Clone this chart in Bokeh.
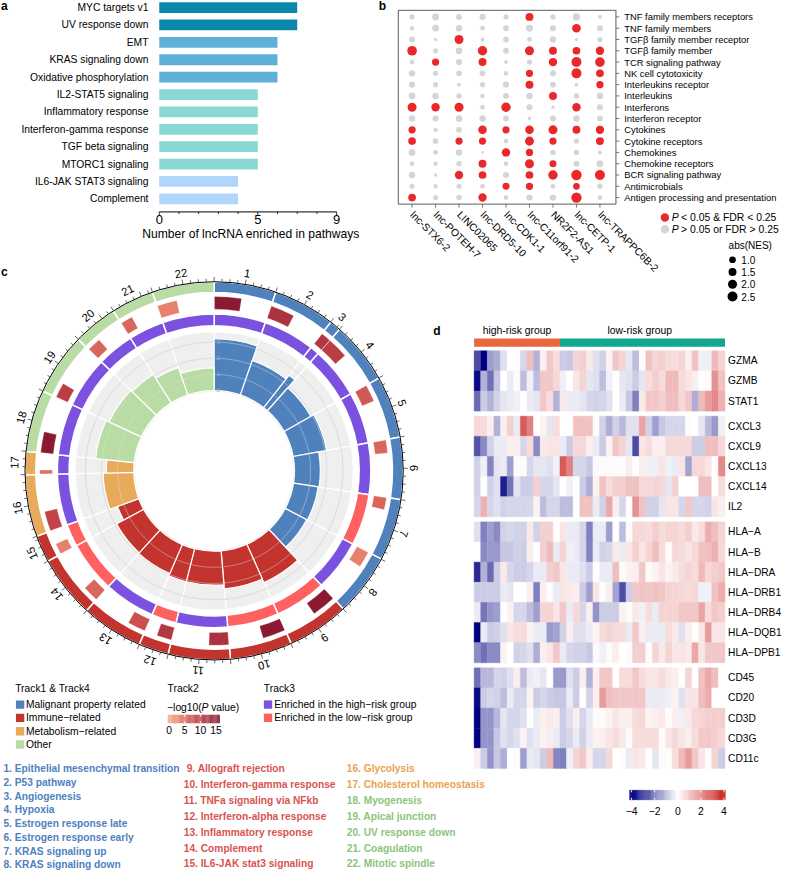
import numpy as np
from bokeh.plotting import figure
from bokeh.models import Range1d, LinearColorMapper, ColumnDataSource
from bokeh.transform import transform
from bokeh.core.properties import value
from bokeh.embed import file_html
from bokeh.resources import INLINE

# ======================= DATA =======================
# ---- panel a
a_pathways = ["MYC targets v1", "UV response down", "EMT", "KRAS signaling down",
              "Oxidative phosphorylation", "IL2-STAT5 signaling", "Inflammatory response",
              "Interferon-gamma response", "TGF beta signaling", "MTORC1 signaling",
              "IL6-JAK STAT3 signaling", "Complement"]
a_counts = [7, 7, 6, 6, 6, 5, 5, 5, 5, 5, 4, 4]
a_ticks = [0, 5, 9]
a_minor = [0, 1, 2, 3, 4, 5, 6, 7, 8, 9]

# ---- panel b
b_lncrnas = ["lnc-STX6-2", "lnc-POTEH-7", "LINC02065", "lnc-DRD5-10", "lnc-CDK1-1",
             "lnc-C11orf91-2", "NR2F2-AS1", "lnc-CETP-1", "lnc-TRAPPC6B-2"]
b_pathways = ["TNF family members receptors", "TNF family  members", "TGFβ family member receptor",
              "TGFβ family member", "TCR signaling pathway", "NK cell cytotoxicity",
              "Interleukins receptor", "Interleukins", "Interferons", "Interferon receptor",
              "Cytokines", "Cytokine receptors", "Chemokines", "Chemokine receptors",
              "BCR signaling pathway", "Antimicrobials", "Antigen processing and presentation"]
b_abs_nes = [
    [0.5, 1.1, 0.7, 0.8, 0.5, 1.5, 0.5, 1.2, 0.2],
    [0.3, 1.0, 0.9, 0.4, 0.7, 1.1, 0.8, 1.8, 0.7],
    [0.8, 0.1, 2.0, 0.2, 0.7, 0.4, 0.9, 0.1, 0.5],
    [2.3, 0.5, 1.0, 2.2, 0.7, 2.0, 1.5, 1.4, 1.7],
    [0.4, 1.2, 0.8, 1.5, 0.2, 0.5, 1.7, 2.5, 2.3],
    [0.9, 0.5, 0.7, 0.7, 0.4, 1.2, 0.8, 2.5, 1.4],
    [0.8, 0.5, 0.2, 0.5, 0.8, 1.5, 0.7, 0.2, 1.2],
    [1.0, 0.9, 0.6, 0.3, 0.7, 0.9, 1.5, 0.6, 0.9],
    [2.0, 1.7, 2.0, 0.4, 2.2, 0.8, 0.1, 1.7, 0.8],
    [0.9, 0.7, 1.0, 0.9, 0.7, 0.1, 0.7, 0.9, 0.7],
    [1.2, 0.3, 0.7, 1.8, 1.2, 1.8, 2.0, 1.5, 1.7],
    [1.4, 0.7, 1.2, 1.2, 0.4, 2.0, 1.2, 0.5, 1.5],
    [1.0, 0.4, 0.9, 0.0, 1.7, 1.2, 0.5, 0.6, 0.2],
    [0.4, 0.3, 0.6, 1.5, 0.4, 2.0, 1.1, 0.7, 1.0],
    [0.9, 0.1, 1.7, 1.4, 0.8, 1.4, 2.2, 2.7, 2.5],
    [0.5, 0.3, 0.5, 0.4, 1.1, 1.2, 0.4, 1.0, 0.6],
    [1.4, 0.5, 0.6, 1.7, 0.4, 0.8, 0.9, 2.7, 0.4],
]
b_significant = [
    [0, 0, 0, 0, 0, 1, 0, 0, 0],
    [0, 0, 0, 0, 0, 0, 0, 1, 0],
    [0, 0, 1, 0, 0, 0, 0, 0, 0],
    [1, 0, 0, 1, 0, 1, 1, 1, 1],
    [0, 1, 0, 1, 0, 0, 1, 1, 1],
    [0, 0, 0, 0, 0, 1, 0, 1, 1],
    [0, 0, 0, 0, 0, 1, 0, 0, 1],
    [0, 0, 0, 0, 0, 0, 1, 0, 0],
    [1, 1, 1, 0, 1, 0, 0, 1, 0],
    [0, 0, 0, 0, 0, 0, 0, 0, 0],
    [1, 0, 0, 1, 1, 1, 1, 1, 1],
    [1, 0, 1, 1, 0, 1, 1, 0, 1],
    [0, 0, 0, 0, 1, 1, 0, 0, 0],
    [0, 0, 0, 1, 0, 1, 1, 0, 0],
    [0, 0, 1, 1, 0, 1, 1, 1, 1],
    [0, 0, 0, 0, 1, 1, 0, 1, 0],
    [1, 0, 0, 1, 0, 0, 0, 1, 0],
]
b_nes_legend = [1.0, 1.5, 2.0, 2.5]

# ---- panel c (circos of hallmark gene sets)
c_sets = ["Epithelial mesenchymal transition", "P53 pathway", "Angiogenesis", "Hypoxia",
          "Estrogen response late", "Estrogen response early", "KRAS signaling up",
          "KRAS signaling down", "Allograft rejection", "Interferon-gamma response",
          "TNFa signaling via NFkb", "Interferon-alpha response", "Inflammatory response",
          "Complement", "IL6-JAK stat3 signaling", "Glycolysis", "Cholesterol homeostasis",
          "Myogenesis", "Apical junction", "UV response down", "Coagulation", "Mitotic spindle"]
c_set_size = [200, 200, 36, 200, 200, 200, 200, 200, 200, 200, 200, 97, 200, 200, 87,
              200, 74, 200, 200, 144, 138, 200]
c_category = ["mal"] * 8 + ["imm"] * 7 + ["met"] * 2 + ["oth"] * 5
c_neglog10p = [15, 11, 10, 9, 6, 5, 5, 3, 15, 15, 11, 10, 7, 5, 3, 8, 4, 15, 9, 5, 5, 3]
c_leading_edge = [94, 84, 35, 73, 59, 45, 42, 56, 84, 80, 69, 52, 63, 56, 38, 69, 14, 73,
                  52, 48, 42, 69]
c_enriched_in = ["high", "high", "high", "high", "high", "high", "low", "high", "low", "low",
                 "high", "low", "high", "low", "low", "high", "high", "high", "high", "high",
                 "high", "high"]
c_nes = [3.2, 2.25, 2.55, 1.9, 2.1, 1.6, 1.55, 1.5, 2.6, 2.35, 2.1, 2.1, 1.95, 1.9, 1.4,
         1.9, 1.7, 2.4, 2.2, 2.1, 1.8, 1.4]
c_track4_ticks = [0, 1, 2, 3]
c_p_ticks = [0, 5, 10, 15]
c_category_labels = [("mal", "Malignant property related"), ("imm", "Immune\u2212related"),
                     ("met", "Metabolism\u2212related"), ("oth", "Other")]

# ---- panel d (heatmap)
d_genes = ["GZMA", "GZMB", "STAT1",
           "CXCL3", "CXCL9", "CXCL13", "CXCL14", "IL2",
           "HLA\u2212A", "HLA\u2212B", "HLA\u2212DRA", "HLA\u2212DRB1", "HLA\u2212DRB4", "HLA\u2212DQB1", "HLA\u2212DPB1",
           "CD45", "CD20", "CD3D", "CD3G", "CD11c"]
d_gene_block = [0, 0, 0, 1, 1, 1, 1, 1, 2, 2, 2, 2, 2, 2, 2, 3, 3, 3, 3, 3]
d_n_high = 13
d_n_low = 25
d_expr = [
    [-2.8, -4.0, -1.5, -1.3, -0.5, 0.0, 0.0, -0.6, 1.2, -1.2, 0.3, 1.0, 0.6, -0.8, -0.9, 0.8, 0.9, 0.4, -0.5,
     -0.7, 0.2, 1.0, 0.8, -0.4, -1.0, 0.1, 1.1, 0.8, 0.9, 0.6, 0.6, 0.8, 0.3, 1.1, -0.2, -0.2, 1.3, 0.8],
    [-3.8, -1.2, -2.2, -0.9, 0.0, -0.3, 0.1, -1.0, -0.2, -1.0, 1.0, 1.0, 0.7, -0.2, 0.0, 0.5, 0.8, -0.4, -0.5,
     -1.0, -0.2, 0.0, -0.4, -0.5, -0.8, -0.4, 0.6, 0.9, 0.6, 1.3, 1.3, 0.6, 0.5, 0.3, 0.0, 0.1, 2.0, 1.1],
    [-2.3, -0.8, -1.2, -0.7, -0.4, -0.3, -0.2, 0.0, -0.3, -0.4, 1.0, 0.6, -1.2, 0.4, -0.3, -0.3, -0.4, -0.6, -0.7,
     -0.6, -0.5, 0.0, -0.3, -0.9, -2.0, 0.4, 1.0, 1.0, 0.9, 1.2, 1.2, 0.7, 1.0, -1.3, 1.3, 1.8, 2.1, 1.4],
    [0.7, 0.6, 0.3, -1.2, 0.3, 0.9, -0.3, 3.0, 2.3, 0.0, 0.2, -0.4, 0.6, 0.0, 0.0, 1.1, 1.1, 1.1, 0.1,
     -0.7, -1.3, -0.7, -1.1, -0.5, -0.5, 1.7, -0.7, -1.5, -0.9, -0.6, -0.6, -0.6, 0.1, 0.0, -0.4, -1.1, -1.6, -0.2],
    [-2.7, -1.8, -0.7, -0.3, -0.3, 0.3, 0.3, -0.6, 0.6, -1.8, 0.4, 0.5, 0.5, -0.3, -0.8, 0.7, 0.7, 0.3, -0.3,
     -0.8, 0.2, 1.0, 0.8, -0.4, -2.8, 0.5, 0.6, 0.3, 0.3, 0.7, 0.7, 0.7, 0.7, -0.8, -0.8, 1.2, 1.2, 0.7],
    [-0.7, -0.2, -1.9, -0.4, -0.3, -1.5, 0.1, 0.1, -0.6, -0.4, -0.4, -0.5, -0.2, 3.0, 2.3, -0.6, -0.6, -0.9, -0.1,
     0.1, 0.1, 0.1, 0.1, 0.3, 0.0, 0.3, -0.2, -0.2, 0.5, -0.2, -0.3, 0.5, -1.4, 0.7, 0.7, 0.5, 0.0, 2.1],
    [-0.7, 0.0, -0.7, -0.5, -3.5, -2.1, -0.4, -0.8, -0.8, 0.9, -0.6, -0.6, -0.4, 0.0, -0.2, 0.0, -0.8, -1.3, 0.2,
     1.1, 0.6, 0.9, 0.9, 1.1, 1.1, 0.7, 0.7, 0.8, 0.7, -0.4, 0.9, 0.0, 0.0, 0.0, 1.2, 1.2, 0.0, 0.6],
    [-0.6, 1.4, -0.6, -0.5, -0.7, -0.6, -0.6, -0.6, -0.6, 0.2, -1.0, -0.6, -0.6, -1.0, -1.0, 0.0, 1.1, 1.1, -0.3,
     -0.7, 1.6, 0.3, -0.6, 0.0, 2.0, 1.1, -0.7, -0.7, -0.4, 0.5, 0.5, -0.6, 1.0, -0.6, -0.6, -0.7, 0.5, 0.3],
    [-0.5, -2.0, -1.5, -1.8, -0.7, -0.6, -0.7, -0.7, 0.4, -0.7, 0.9, 0.9, 0.0, 0.5, -0.3, -0.3, -0.6, -2.0, -0.3,
     -0.3, -1.5, 0.0, -1.0, 0.1, 0.7, 0.7, 0.6, 0.9, 0.6, 0.8, 0.8, 0.6, 0.9, 0.4, 0.6, 1.5, 1.2, 0.8],
    [0.0, -1.8, -1.6, -1.6, -0.9, -0.9, -0.7, -0.8, 0.3, 0.0, 0.9, 1.3, -0.3, 0.8, -0.2, -0.3, -0.6, -1.9, -0.3,
     -0.7, -0.6, 0.4, -0.3, 0.5, 0.9, 0.5, 0.8, 1.2, 0.6, 0.1, 0.7, 0.6, 0.5, 0.7, 1.1, 1.2, 1.4, 0.7],
    [-3.3, -1.2, -2.3, -0.8, 0.4, -0.6, -0.8, -0.8, -0.6, -0.3, -0.3, 0.9, 1.0, 0.5, -0.3, -0.3, -0.5, -0.8, 0.0,
     -0.3, -0.3, 1.2, 0.1, 0.2, 0.3, 1.0, 0.1, 0.2, 0.5, 0.2, 0.4, 0.6, 0.8, 0.6, 1.3, 0.7, 0.9, 1.0],
    [-0.8, -0.8, -0.8, -0.8, -0.3, -0.4, 0.0, 0.0, 0.3, -2.0, 0.3, 0.1, -0.3, 0.5, 0.4, 0.3, -0.8, -1.5, 0.5,
     0.1, 0.3, -1.4, -2.8, -0.8, 1.0, 1.1, 1.0, 1.1, 1.0, 0.8, 0.8, 0.7, 0.6, 0.7, -0.2, -0.2, 1.1, 1.5],
    [-0.3, -2.1, -1.7, -1.5, 0.0, 0.2, -0.6, -0.6, -1.0, -1.5, 0.8, 0.8, 0.5, 1.0, -0.3, 0.7, -0.6, 0.3, -1.7,
     -0.8, -0.8, -0.8, 0.2, 0.1, 0.4, -0.2, 0.6, -0.3, 0.8, 0.8, 0.8, 1.0, 1.0, 1.0, 1.7, 0.6, 1.0, 0.9],
    [-4.0, -0.3, -0.8, -0.7, -0.5, 0.5, 0.6, 0.6, 0.2, -0.3, -0.3, -1.6, -1.4, -0.7, 0.3, -0.5, -0.5, -0.3, 0.2,
     0.6, 0.8, 0.6, 0.6, -0.3, 1.0, 0.3, -0.3, -0.3, -0.3, 0.6, 0.4, -0.5, 0.3, 0.0, 0.5, 1.8, 0.5, 0.5],
    [-1.8, -2.2, -1.8, -1.8, 0.2, 0.0, -0.7, -0.6, -0.5, -1.3, 0.3, 0.5, 1.0, -0.3, -0.6, -0.7, -0.7, -0.9, -0.1,
     -0.2, 0.1, 0.3, 0.0, 0.1, 0.9, 0.9, 0.1, 0.8, 0.4, 0.8, 0.5, 0.5, 0.4, 1.6, 0.5, 1.0, 1.0, 1.0],
    [-2.2, -1.1, -1.1, -0.6, -0.7, -0.5, 0.3, -1.0, -0.3, -0.2, -0.4, 0.0, -1.6, -1.6, -0.5, -0.8, 0.3, -1.2, 0.3,
     1.0, 1.0, 0.0, 0.6, 0.6, 1.0, 0.6, 0.5, 0.5, 0.6, 0.4, 0.3, 0.0, 0.8, 0.0, 1.1, 1.6, 1.2, 0.0],
    [-3.8, -0.8, -0.6, -0.7, -1.0, -0.3, -0.6, -0.6, 0.2, -0.8, -0.6, -0.8, -0.9, -0.9, -0.3, -0.8, 0.0, -0.7, 0.3,
     1.8, 1.2, 1.0, 1.0, 1.0, 1.0, 1.0, -0.3, -0.3, -0.3, -0.2, 0.2, -0.5, 0.5, 0.5, 1.2, 1.5, 0.0, 0.0],
    [-4.0, -1.7, -1.7, -1.1, -0.4, -0.6, -0.6, -0.5, 0.0, -0.3, 0.3, 0.4, 0.3, -0.8, -0.5, 0.3, -0.6, -0.3, 0.1,
     0.1, 0.2, 0.5, 0.3, 0.3, 0.6, 0.7, 0.2, 0.3, 0.4, 0.1, 0.3, -0.2, 0.4, 0.7, 0.8, 0.9, 0.9, 0.9],
    [-4.0, -1.7, -1.7, -0.9, -0.5, -0.6, -0.5, 0.2, -0.5, -0.3, 0.2, 0.3, -0.3, -0.8, -0.6, -0.3, -0.7, -0.3, 0.2,
     0.3, 0.5, 0.6, 0.4, 0.1, 0.6, 0.6, 0.6, 0.6, 0.1, 0.5, 0.7, 0.5, 0.3, 0.6, 1.0, 1.0, 0.9, 0.7],
    [0.3, -0.8, -1.7, -0.9, -1.3, 0.0, 0.1, -1.5, -0.3, -0.4, -0.8, 1.3, -1.9, -2.0, -0.2, 0.8, 1.0, 0.3, -0.6,
     -0.6, 0.7, 0.0, 0.1, -0.3, 0.5, 0.4, 0.0, -0.4, 0.1, 0.1, 0.6, 1.3, 1.8, 1.0, 0.5, 0.1, 0.8, -0.8],
]
d_ticks = [-4, -2, 0, 2, 4]

# ======================= STYLE =======================
FONT = "Liberation Sans"
A_COLORS = {7: "#0B87AA", 6: "#5FB0D8", 5: "#8AD8D6", 4: "#B0D6FA"}
SIG_COLORS = {1: "#E8282B", 0: "#D5D5D5"}
CAT_COLORS = {"mal": "#4F81BD", "imm": "#C3342F", "met": "#E8AA5B", "oth": "#B9DCA5"}
CAT_TEXT = {"mal": "#4F7FC0", "imm": "#D85450", "met": "#EAA24E", "oth": "#8CC47B"}
GROUP_COLORS = {"high": "#7B52E0", "low": "#FF6161"}


def ramp(stops, n):
    stops = [tuple(int(s[i:i + 2], 16) for i in (1, 3, 5)) for s in stops]
    out = []
    seg = len(stops) - 1
    for k in range(n):
        t = k / (n - 1) * seg
        i = min(int(t), seg - 1)
        f = t - i
        c = [round(stops[i][j] + (stops[i + 1][j] - stops[i][j]) * f) for j in range(3)]
        out.append("#%02x%02x%02x" % tuple(c))
    return out


heat_mapper = LinearColorMapper(palette=ramp(["#000080", "#FFFFFF", "#CD2626"], 101), low=-4, high=4)
p_mapper = LinearColorMapper(palette=ramp(["#F7A482", "#C9474A", "#8A1A32"], 64), low=0, high=15)

# reference coordinate frame (798 x 886) mapped onto the canvas
RW, RH = 798, 886
W, H = 782, 870
p = figure(width=W, height=H, x_range=Range1d(0, RW), y_range=Range1d(RH, 0),
           output_backend="svg", toolbar_location=None,
           x_axis_location=None, y_axis_location=None, min_border=0)
p.outline_line_color = None
p.background_fill_color = "white"
p.border_fill_color = "white"
for g in p.grid:
    g.visible = False


def xmap(v0, r0, v1, r1):
    k = (v1 - v0) / (r1 - r0)
    return Range1d(start=v0 - r0 * k, end=v0 + (RW - r0) * k)


def ymap(v0, r0, v1, r1):
    k = (v1 - v0) / (r1 - r0)
    return Range1d(start=v0 + (RH - r0) * k, end=v0 - r0 * k)


p.extra_x_ranges = {
    "ax": xmap(0, 162, 9, 343),
    "bx": xmap(0, 420, 8, 611.7),
    "cx": xmap(0, 218, 1, 219),
    "hx": xmap(0, 483.3, 38, 739.3),
    "hcb": xmap(-4, 644, 4, 738.3),
    "pcb": xmap(0, 172, 15, 220),
}
p.extra_y_ranges = {
    "ay": ymap(0, 7.2, 11, 202),
    "by": ymap(0, 16.7, 16, 200.7),
    "cy": ymap(0, 479, 1, 478),
    "hy": ymap(0, 356.7, 1, 377.2),
}


def txt(x, y, s, size, align="left", baseline="middle", color="#000000", style="normal",
        angle=0.0, xr=None, yr=None):
    n = len(s)
    def arr(v):
        return list(v) if isinstance(v, (list, tuple, np.ndarray)) else [v] * n
    src = ColumnDataSource(dict(x=arr(x), y=arr(y), t=list(s), a=arr(angle), c=arr(color)))
    kw = {}
    if xr:
        kw["x_range_name"] = xr
    if yr:
        kw["y_range_name"] = yr
    p.text(x="x", y="y", text="t", angle="a", text_color="c", source=src,
           text_font=value(FONT), text_font_size=value(f"{size}px"),
           text_align=align, text_baseline=baseline, text_font_style=style, **kw)


# ======================= PANEL A =======================
a_idx = list(range(len(a_pathways)))
p.hbar(y=a_idx, left=0, right=a_counts, height=0.62,
       fill_color=[A_COLORS[c] for c in a_counts], line_color=None,
       x_range_name="ax", y_range_name="ay")
txt(151, a_idx, a_pathways, 10.3, align="right", yr="ay")
AXY = 215.3
p.segment(x0=[0], x1=[max(a_ticks)], y0=[AXY], y1=[AXY], line_color="black", line_width=1,
          x_range_name="ax")
p.segment(x0=a_minor, x1=a_minor, y0=[AXY] * len(a_minor),
          y1=[AXY + (3.5 if t in a_ticks else 2.2) for t in a_minor],
          line_color="black", line_width=0.8, x_range_name="ax")
txt(a_ticks, 223.5, [str(t) for t in a_ticks], 13, align="center", xr="ax")
txt(255.8, 238, ["Number of lncRNA enriched in pathways"], 12.1, align="center")
txt(0.5, 6, ["a"], 12, style="bold")

# ======================= PANEL B =======================
nr, nc = len(b_pathways), len(b_lncrnas)
bx, by, bs, bcol = [], [], [], []
for r in range(nr):
    for c in range(nc):
        bx.append(c)
        by.append(r)
        bs.append(float(np.sqrt(8.2 + 36.7 * max(b_abs_nes[r][c], 0.0))))
        bcol.append(SIG_COLORS[b_significant[r][c]])
p.quad(left=[406], right=[628], top=[10], bottom=[207.3], fill_color=None,
       line_color="#7F7F7F", line_width=1.3)
p.scatter(x=bx, y=by, size=bs, fill_color=bcol, line_color=None,
          x_range_name="bx", y_range_name="by")
p.segment(x0=[628] * nr, x1=[631.5] * nr, y0=list(range(nr)), y1=list(range(nr)),
          line_color="#555555", line_width=0.8, y_range_name="by")
p.segment(x0=list(range(nc)), x1=list(range(nc)), y0=[207.3] * nc, y1=[211] * nc,
          line_color="#555555", line_width=0.8, x_range_name="bx")
txt(636.5, list(range(nr)), b_pathways, 9.4, yr="by")
txt(list(range(nc)), 216.5, b_lncrnas, 10.3, angle=-np.pi / 4, xr="bx")
txt(386, 6, ["b"], 12, style="bold")
# legend
p.scatter(x=[678, 678], y=[221, 233], size=8.4, fill_color=[SIG_COLORS[1], SIG_COLORS[0]],
          line_color=None)
txt(685, [221, 233], ["P", "P"], 10.4, style="italic")
txt(694.5, [221, 233], ["< 0.05 & FDR < 0.25", "> 0.05 or FDR > 0.25"], 10.4)
txt(743, 249, ["abs(NES)"], 10)
leg_y = [264, 276.5, 289, 301.5]
p.scatter(x=[747] * 4, y=leg_y, size=[float(np.sqrt(8.2 + 36.7 * v)) for v in b_nes_legend],
          fill_color="black", line_color=None)
txt(756, leg_y, [f"{v:.1f}" for v in b_nes_legend], 10)

# ======================= PANEL C (circos) =======================
CK = dict(x_range_name="cx", y_range_name="cy")
dpg = 360.0 / sum(c_set_size)
edges = np.concatenate([[0.0], np.cumsum(c_set_size)]) * dpg
th0, th1 = edges[:-1], edges[1:]


def ang(th):
    return list(np.radians(90.0 - np.asarray(th, dtype=float)))


def wedges(ri, ro, t0, t1, colors=None, field=None, lw=1.5):
    n = len(t0)
    data = dict(ri=[ri] * n if np.isscalar(ri) else list(ri),
                ro=[ro] * n if np.isscalar(ro) else list(ro),
                sa=ang(t1), ea=ang(t0), x=[0] * n, y=[0] * n)
    if field is not None:
        data["v"] = list(field)
        fc = transform("v", p_mapper)
    else:
        data["c"] = list(colors)
        fc = "c"
    src = ColumnDataSource(data)
    p.annular_wedge(x="x", y="y", inner_radius="ri", outer_radius="ro", start_angle="sa",
                    end_angle="ea", fill_color=fc, line_color="white", line_width=lw,
                    source=src, **CK)


cat_cols = [CAT_COLORS[c] for c in c_category]
# track 4 background + bars
wedges(80, 142, th0, th1, colors=["#EFEFEF"] * len(th0), lw=1.2)
R0, RK = 82.0, 16.5
p.arc(x=[0, 0, 0], y=[0, 0, 0], radius=[R0 + RK * v for v in c_track4_ticks[1:]],
      start_angle=0, end_angle=2 * np.pi, line_color="#D2D2D2", line_width=0.7, **CK)
wedges(R0, [R0 + RK * v for v in c_nes], th0, th1, colors=cat_cols, lw=1.2)
p.arc(x=[0, 0, 0], y=[0, 0, 0], radius=[R0 + RK * v for v in c_track4_ticks[1:]],
      start_angle=0, end_angle=2 * np.pi, line_color="#E2E2E2", line_width=0.6,
      line_alpha=0.7, **CK)
txt(2.5, [R0 + RK * v for v in c_track4_ticks], [str(v) for v in c_track4_ticks], 6,
    color="#A8A8A8", xr="cx", yr="cy")
# track 3
wedges(148, 160, th0, th1, colors=[GROUP_COLORS[g] for g in c_enriched_in], lw=1.5)
# track 2
bstart = th0 + dpg * 1.0
bend = bstart + np.asarray(c_leading_edge) * dpg
wedges(165, 178, bstart, bend, field=c_neglog10p, lw=0.3)
# track 1
wedges(182, 193, th0, th1, colors=cat_cols, lw=1.5)
# outer axis with ticks
p.arc(x=[0], y=[0], radius=[193], start_angle=0, end_angle=2 * np.pi,
      line_color="black", line_width=1.0, **CK)
tk_t, tk_r = [], []
for i, sz in enumerate(c_set_size):
    for g in range(0, sz, 25):
        tk_t.append(th0[i] + g * dpg)
        tk_r.append(197.5 if g % 100 == 0 else 195.8)
tk_t = np.radians(tk_t)
p.segment(x0=list(193 * np.sin(tk_t)), y0=list(193 * np.cos(tk_t)),
          x1=list(np.array(tk_r) * np.sin(tk_t)), y1=list(np.array(tk_r) * np.cos(tk_t)),
          line_color="black", line_width=0.6, **CK)
mid = np.radians((th0 + th1) / 2)
txt(list(204 * np.sin(mid)), list(204 * np.cos(mid)), [str(i + 1) for i in range(len(c_sets))],
    11.3, align="center", angle=list(-mid), xr="cx", yr="cy")
txt(0.5, 276.5, ["c"], 12, style="bold")

# legends of panel c
txt(15, 701, ["Track1 & Track4"], 10.3)
leg_c_y = [717, 730.5, 744.2, 757.7]
p.rect(x=[20] * 4, y=leg_c_y, width=8.5, height=8.5,
       fill_color=[CAT_COLORS[k] for k, _ in c_category_labels], line_color=None)
txt(26, leg_c_y, [lab for _, lab in c_category_labels], 10.3)
txt(170.5, 701, ["Track2"], 10.3)
txt(170, 719.5, ["\u2212log10("], 10.3)
txt(205.2, 719.5, ["P"], 10.3, style="italic")
txt(215, 719.5, ["value)"], 10.3)
cbv = np.linspace(-0.4, 16.2, 60)
p.quad(left=list(cbv[:-1]), right=list(cbv[1:]), top=[727.3] * 59, bottom=[736] * 59,
       fill_color=[p_mapper.palette[min(63, max(0, int((v + 0.14) / 15 * 63)))] for v in cbv[:-1]],
       line_color=None, x_range_name="pcb")
p.segment(x0=c_p_ticks[1:-1] * 2, x1=c_p_ticks[1:-1] * 2,
          y0=[727.3] * 2 + [736] * 2, y1=[729.3] * 2 + [734] * 2,
          line_color="white", line_width=1, x_range_name="pcb")
txt(c_p_ticks, 742.5, [str(v) for v in c_p_ticks], 10.3, align="center", xr="pcb")
txt(268.7, 701, ["Track3"], 10.3)
p.rect(x=[273, 273], y=[717, 730.5], width=8.5, height=8.5,
       fill_color=[GROUP_COLORS["high"], GROUP_COLORS["low"]], line_color=None)
txt(279.3, [717, 730.5], ["Enriched in the high\u2212risk group", "Enriched in the low\u2212risk group"], 10.3)

# numbered gene-set list
lx, ly = [], []
for i in range(len(c_sets)):
    if i < 8:
        lx.append(3.0); ly.append(782.3 + 14.0 * i)
    elif i < 15:
        lx.append(190.0 if i == 8 else 187.0); ly.append(782.3 + 16.17 * (i - 8))
    else:
        lx.append(353.3); ly.append(782.3 + 16.17 * (i - 15))
txt(lx, ly, [f"{i + 1}. {s}" for i, s in enumerate(c_sets)], 10.2, style="bold",
    color=[CAT_TEXT[c] for c in c_category])

# ======================= PANEL D (heatmap) =======================
GAP = 0.25
row_top = [r + GAP * b for r, b in enumerate(d_gene_block)]
hl, hr, ht, hb, hv = [], [], [], [], []
for r, row in enumerate(d_expr):
    for c, v in enumerate(row):
        hl.append(c); hr.append(c + 1); ht.append(row_top[r]); hb.append(row_top[r] + 1); hv.append(v)
hsrc = ColumnDataSource(dict(l=hl, r=hr, t=ht, b=hb, v=hv))
p.quad(left="l", right="r", top="t", bottom="b", source=hsrc,
       fill_color=transform("v", heat_mapper), line_color=transform("v", heat_mapper),
       line_width=0.4, x_range_name="hx", y_range_name="hy")
txt(742.5, [t + 0.5 for t in row_top], d_genes, 10.2, yr="hy")
ntot = d_n_high + d_n_low
p.quad(left=[0, d_n_high], right=[d_n_high, ntot], top=[-0.605, -0.605], bottom=[-0.195, -0.195],
       fill_color=["#E8673C", "#11A68E"], line_color=None, x_range_name="hx", y_range_name="hy")
txt([d_n_high / 2, d_n_high + d_n_low / 2 - 0.4], 335.7, ["high-risk group", "low-risk group"], 10.4,
    align="center", xr="hx")
txt(441.5, 337, ["d"], 12, style="bold")
# colour key
hv_c = np.linspace(-4.17, 4.12, 90)
hmid = (hv_c[:-1] + hv_c[1:]) / 2
csrc = ColumnDataSource(dict(l=hv_c[:-1], r=hv_c[1:], v=hmid))
p.quad(left="l", right="r", top=804.3, bottom=814, source=csrc,
       fill_color=transform("v", heat_mapper), line_color=transform("v", heat_mapper),
       line_width=0.4, x_range_name="hcb")
p.segment(x0=d_ticks * 2, x1=d_ticks * 2, y0=[804.3] * 5 + [814] * 5, y1=[806.3] * 5 + [812] * 5,
          line_color="white", line_width=1, x_range_name="hcb")
txt(d_ticks, 825.5, [("\u2212" + str(-t)) if t < 0 else str(t) for t in d_ticks], 10.4,
    align="center", xr="hcb")

open("out.html", "w").write(file_html(p, INLINE))
